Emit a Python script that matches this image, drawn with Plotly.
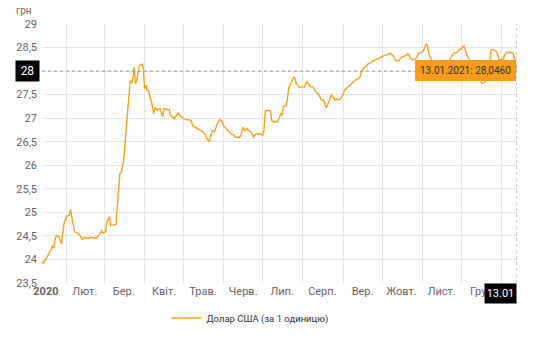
import plotly.graph_objects as go

# ---- data ----
dates = [
    "2020-01-13","2020-01-14","2020-01-16","2020-01-18","2020-01-20","2020-01-21","2020-01-22","2020-01-23",
    "2020-01-24","2020-01-26","2020-01-27","2020-01-28","2020-01-29","2020-01-30","2020-02-01","2020-02-03",
    "2020-02-04","2020-02-05","2020-02-07","2020-02-09","2020-02-11","2020-02-13","2020-02-15","2020-02-18",
    "2020-02-20","2020-02-22","2020-02-24","2020-02-26","2020-02-28","2020-02-29","2020-03-02","2020-03-03",
    "2020-03-05","2020-03-06","2020-03-08","2020-03-10","2020-03-11","2020-03-13","2020-03-14","2020-03-16",
    "2020-03-18","2020-03-20","2020-03-21","2020-03-22","2020-03-23","2020-03-24","2020-03-25","2020-03-26",
    "2020-03-27","2020-03-28","2020-03-29","2020-03-30","2020-03-31","2020-04-01","2020-04-02","2020-04-03",
    "2020-04-04","2020-04-06","2020-04-07","2020-04-08","2020-04-09","2020-04-11","2020-04-12","2020-04-13",
    "2020-04-15","2020-04-16","2020-04-17","2020-04-19","2020-04-20","2020-04-21","2020-04-22","2020-04-24",
    "2020-04-25","2020-04-27","2020-04-29","2020-05-01","2020-05-03","2020-05-05","2020-05-07","2020-05-08",
    "2020-05-10","2020-05-12","2020-05-14","2020-05-16","2020-05-18","2020-05-19","2020-05-21","2020-05-22",
    "2020-05-23","2020-05-25","2020-05-26","2020-05-27","2020-05-29","2020-05-31","2020-06-01","2020-06-03",
    "2020-06-05","2020-06-07","2020-06-09","2020-06-10","2020-06-13","2020-06-14","2020-06-16","2020-06-17",
    "2020-06-19","2020-06-20","2020-06-22","2020-06-24","2020-06-25","2020-06-27","2020-06-29","2020-07-01",
    "2020-07-02","2020-07-03","2020-07-05","2020-07-07","2020-07-08","2020-07-10","2020-07-12","2020-07-13",
    "2020-07-15","2020-07-16","2020-07-17","2020-07-19","2020-07-20","2020-07-21","2020-07-22","2020-07-24",
    "2020-07-25","2020-07-26","2020-07-27","2020-07-29","2020-07-31","2020-08-02","2020-08-03","2020-08-04",
    "2020-08-06","2020-08-07","2020-08-09","2020-08-10","2020-08-11","2020-08-13","2020-08-14","2020-08-15",
    "2020-08-17","2020-08-18","2020-08-19","2020-08-21","2020-08-22","2020-08-23","2020-08-24","2020-08-26",
    "2020-08-27","2020-08-28","2020-08-30","2020-08-31","2020-09-01","2020-09-02","2020-09-04","2020-09-05",
    "2020-09-06","2020-09-08","2020-09-09","2020-09-10","2020-09-11","2020-09-13","2020-09-14","2020-09-15",
    "2020-09-17","2020-09-18","2020-09-19","2020-09-20","2020-09-22","2020-09-23","2020-09-24","2020-09-26",
    "2020-09-27","2020-09-28","2020-09-30","2020-10-01","2020-10-02","2020-10-03","2020-10-05","2020-10-06",
    "2020-10-07","2020-10-09","2020-10-10","2020-10-11","2020-10-12","2020-10-14","2020-10-15","2020-10-16",
    "2020-10-18","2020-10-19","2020-10-20","2020-10-21","2020-10-23","2020-10-24","2020-10-25","2020-10-27",
    "2020-10-28","2020-10-29","2020-10-31","2020-11-01","2020-11-02","2020-11-03","2020-11-04","2020-11-05",
    "2020-11-06","2020-11-07","2020-11-09","2020-11-12","2020-11-16","2020-11-20","2020-11-23","2020-11-25",
    "2020-11-28","2020-11-29","2020-12-01","2020-12-02","2020-12-03","2020-12-04","2020-12-05","2020-12-06",
    "2020-12-07","2020-12-08","2020-12-10","2020-12-13","2020-12-16","2020-12-17","2020-12-19","2020-12-20",
    "2020-12-21","2020-12-23","2020-12-24","2020-12-26","2020-12-28","2020-12-29","2020-12-30","2020-12-31",
    "2021-01-02","2021-01-04","2021-01-05","2021-01-06","2021-01-08","2021-01-10","2021-01-11","2021-01-12",
    "2021-01-13",
]
usd_rate = [
    23.96,23.92,24.01,24.10,24.20,24.29,24.24,24.42,
    24.50,24.49,24.42,24.33,24.56,24.77,24.91,24.94,
    25.06,24.87,24.59,24.56,24.52,24.43,24.47,24.44,
    24.47,24.45,24.45,24.52,24.61,24.56,24.59,24.80,
    24.91,24.73,24.73,24.75,25.12,25.83,25.84,26.11,
    26.81,27.52,27.80,27.74,27.84,28.08,27.73,27.80,
    28.01,28.12,28.13,28.15,28.08,27.62,27.70,27.59,
    27.59,27.41,27.27,27.10,27.22,27.17,27.20,27.20,
    27.03,27.20,27.20,27.18,27.18,27.06,27.03,26.99,
    27.03,27.11,27.03,26.99,26.97,26.97,26.95,26.85,
    26.81,26.78,26.74,26.71,26.64,26.57,26.50,26.60,
    26.74,26.71,26.81,26.88,26.97,26.92,26.83,26.78,
    26.71,26.66,26.64,26.60,26.59,26.62,26.81,26.74,
    26.78,26.74,26.71,26.60,26.64,26.67,26.67,26.64,
    26.74,27.15,27.17,27.15,26.95,26.92,26.92,26.95,
    27.10,27.06,27.24,27.27,27.38,27.62,27.70,27.84,
    27.87,27.84,27.73,27.66,27.66,27.66,27.70,27.78,
    27.70,27.67,27.66,27.59,27.55,27.52,27.45,27.40,
    27.38,27.31,27.22,27.34,27.45,27.50,27.45,27.38,
    27.41,27.39,27.41,27.46,27.50,27.59,27.64,27.66,
    27.70,27.73,27.77,27.79,27.82,27.84,27.87,27.98,
    28.05,28.10,28.10,28.15,28.17,28.19,28.22,28.24,
    28.25,28.27,28.29,28.31,28.33,28.34,28.35,28.37,
    28.38,28.34,28.31,28.26,28.22,28.22,28.26,28.29,
    28.32,28.33,28.34,28.37,28.29,28.24,28.25,28.26,
    28.31,28.37,28.39,28.41,28.44,28.51,28.58,28.54,
    28.37,28.31,28.19,28.10,28.08,28.15,28.29,28.37,
    28.40,28.44,28.47,28.52,28.54,28.47,28.37,28.29,
    28.26,28.22,28.05,27.90,27.80,27.74,27.76,27.81,
    27.84,28.15,28.45,28.45,28.42,28.37,28.26,28.24,
    28.24,28.37,28.40,28.39,28.40,28.38,28.29,28.12,
    28.046,
]

series_name = "Долар США (за 1 одиницю)"
x_start, x_end = "2020-01-13", "2021-01-13"
month_starts = ["2020-02-01","2020-03-01","2020-04-01","2020-05-01","2020-06-01","2020-07-01",
                "2020-08-01","2020-09-01","2020-10-01","2020-11-01","2020-12-01","2021-01-01"]
month_label_pos = ["2020-01-16","2020-02-15","2020-03-16","2020-04-16","2020-05-16","2020-06-16",
                   "2020-07-16","2020-08-16","2020-09-16","2020-10-16","2020-11-16","2020-12-15"]
month_labels = ["<b>2020</b>","Лют.","Бер.","Квіт.","Трав.","Черв.","Лип.","Серп.",
                "Вер.","Жовт.","Лист.","Гру."]
y_ticks = [23.5,24,24.5,25,25.5,26,26.5,27,27.5,28,28.5,29]
# the "28" tick is hidden behind the crosshair label, as in the reference
y_labels = ["23,5","24","24,5","25","25,5","26","26,5","27","27,5","","28,5","29"]
crosshair_y = 28
crosshair_label = "28"
tooltip_text = "13.01.2021: 28,0460"
end_label = "13.01"

LINE = "#F7A21E"
GRID = "#e6e6e6"
TXT = "#666666"

fig = go.Figure()
fig.add_trace(go.Scatter(x=dates, y=usd_rate, mode="lines", name=series_name,
                         line=dict(color=LINE, width=1.4), showlegend=True))

fig.update_layout(
    width=534, height=350,
    margin=dict(l=42, r=17, t=24, b=67),
    paper_bgcolor="white", plot_bgcolor="white",
    font=dict(family="Roboto, Arial, sans-serif", size=11, color=TXT),
    showlegend=True,
    legend=dict(orientation="h", x=0.262, xanchor="left", y=-0.135, yanchor="middle",
                font=dict(size=9.5, color="#333333"), bgcolor="rgba(0,0,0,0)"),
    xaxis=dict(type="date", range=[x_start, x_end], tickmode="array",
               tickvals=month_label_pos, ticktext=month_labels, showgrid=False,
               ticks="", zeroline=False, showline=False, tickfont=dict(size=11, color=TXT),
               minor=dict(tickmode="array", tickvals=month_starts, showgrid=True,
                          gridcolor=GRID, gridwidth=1, ticks="")),
    yaxis=dict(range=[23.5, 29], tickmode="array", tickvals=y_ticks, ticktext=y_labels,
               showgrid=True, gridcolor=GRID, gridwidth=1, zeroline=False, ticks="",
               tickfont=dict(size=11, color=TXT), ticklabelstandoff=4),
)

# crosshairs
fig.add_shape(type="line", xref="paper", yref="y", x0=0, x1=1, y0=crosshair_y, y1=crosshair_y,
              line=dict(color="#999999", width=1, dash="dot"))
fig.add_shape(type="line", xref="x", yref="paper", x0=x_end, x1=x_end, y0=0, y1=1,
              line=dict(color="#999999", width=1, dash="dot"))

# unit label
fig.add_annotation(xref="paper", yref="paper", x=0, y=1, xanchor="right", yanchor="bottom",
                   xshift=-8, yshift=6, text="грн", showarrow=False,
                   font=dict(size=10, color=TXT))
# crosshair y label
fig.add_annotation(xref="paper", yref="y", x=0, y=crosshair_y, xanchor="right", yanchor="middle",
                   xshift=-2, text=crosshair_label, showarrow=False, bgcolor="#000000", borderpad=3,
                   width=17, font=dict(size=12, color="white"))
# crosshair x label
fig.add_annotation(xref="x", yref="paper", x=x_end, y=0, xanchor="right", yanchor="top",
                   text=end_label, showarrow=False, bgcolor="#000000", borderpad=3, width=25,
                   font=dict(size=11, color="white"))
# tooltip
fig.add_annotation(xref="x", yref="y", x=dates[-1], y=usd_rate[-1], xanchor="right", yanchor="middle",
                   xshift=-1, yshift=-2, text=tooltip_text, showarrow=False,
                   bgcolor="#F89C1C", bordercolor="#F89C1C", borderpad=4,
                   font=dict(size=10, color="#333333"))

fig.write_html("out.html")
